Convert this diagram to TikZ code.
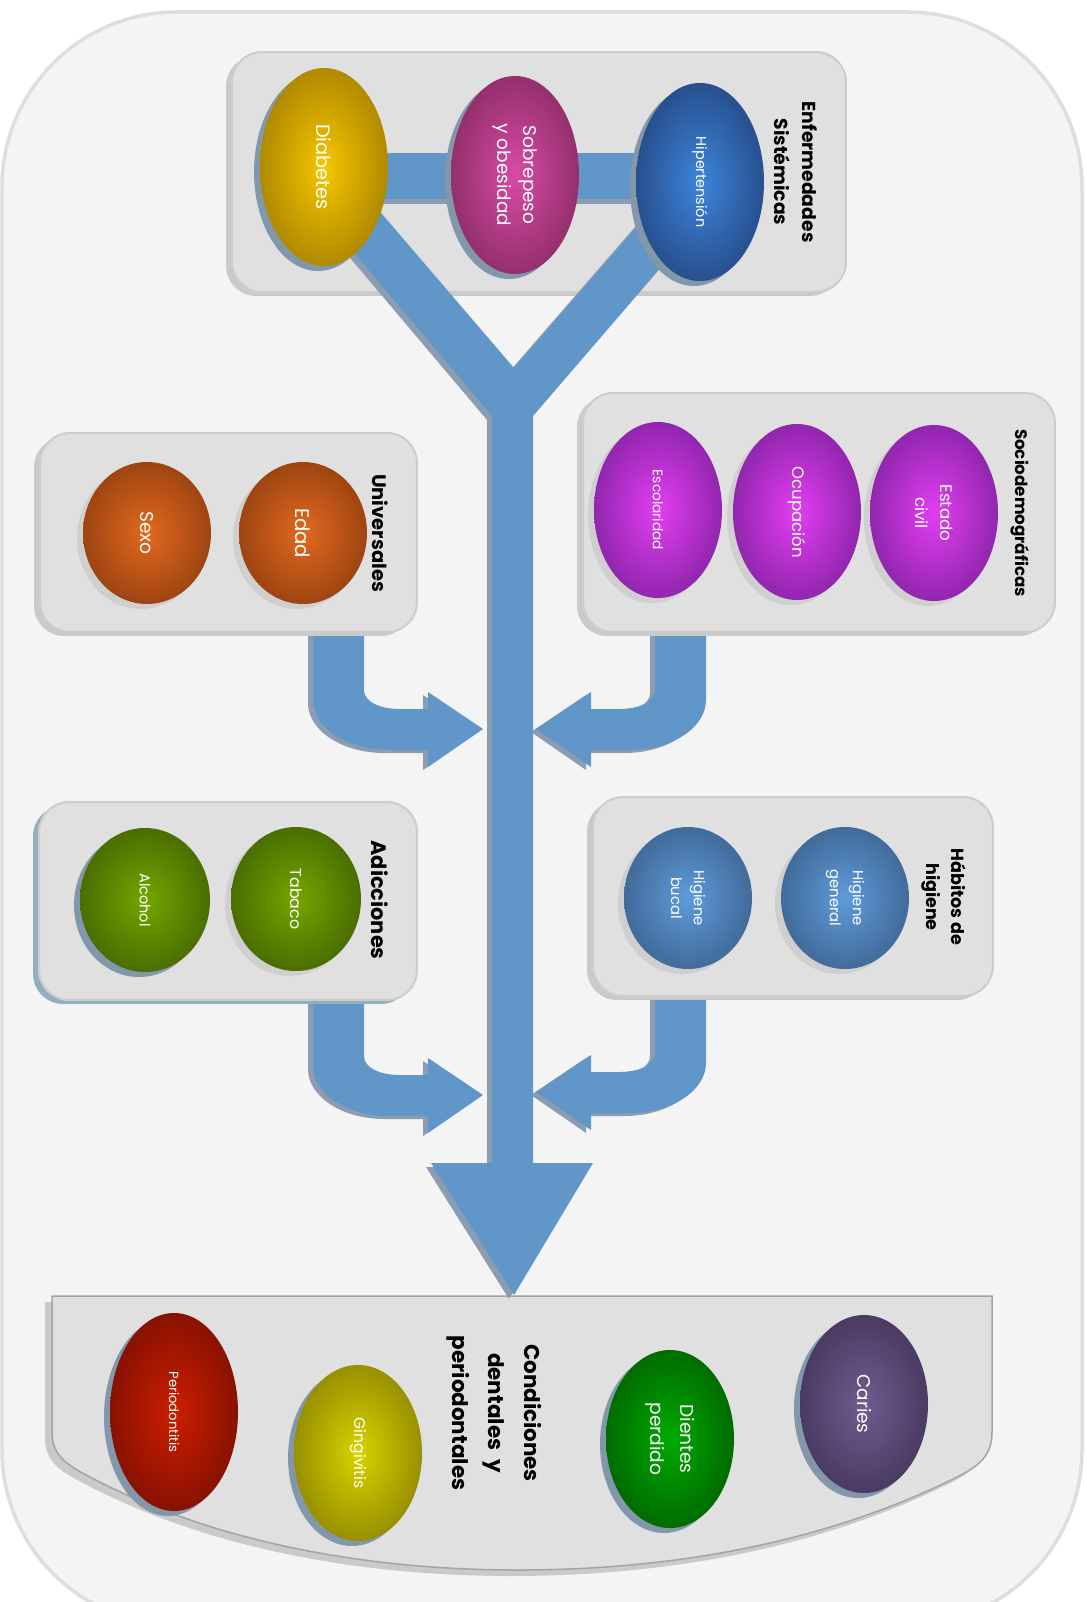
\documentclass[tikz,border=0pt]{standalone}
\usepackage{fontspec}
\setmainfont{Poppins}
\usetikzlibrary{shadows}
\definecolor{bgfill}{HTML}{F4F4F4}
\definecolor{bgline}{HTML}{DEDEDE}
\definecolor{boxfill}{HTML}{E0E0E0}
\definecolor{boxline}{HTML}{CDCDCD}
\definecolor{shgray}{HTML}{CACACA}
\definecolor{shteal}{HTML}{8FB0BC}
\definecolor{flow}{HTML}{6196C9}
\definecolor{flowsh}{HTML}{8C9DB2}
\definecolor{shb}{HTML}{8397AB}
\definecolor{shg}{HTML}{CFCFCF}
\definecolor{diabin}{HTML}{F7C600}\definecolor{diabout}{HTML}{B08A00}
\definecolor{sobin}{HTML}{D94AA6}\definecolor{sobout}{HTML}{94306C}
\definecolor{hipin}{HTML}{3D85DC}\definecolor{hipout}{HTML}{27508E}
\definecolor{socin}{HTML}{E23EF2}\definecolor{socout}{HTML}{9226AE}
\definecolor{uniin}{HTML}{E2691E}\definecolor{uniout}{HTML}{9E4512}
\definecolor{adiin}{HTML}{74A600}\definecolor{adiout}{HTML}{4A6E00}
\definecolor{higin}{HTML}{5F9BDA}\definecolor{higout}{HTML}{416B9A}
\definecolor{perin}{HTML}{CC1E00}\definecolor{perout}{HTML}{881200}
\definecolor{ginin}{HTML}{D8D400}\definecolor{ginout}{HTML}{989000}
\definecolor{diein}{HTML}{00AA00}\definecolor{dieout}{HTML}{006C00}
\definecolor{carin}{HTML}{705B8E}\definecolor{carout}{HTML}{4A3B62}
\newcommand\fsz[2]{\fontsize{#1}{#2}\selectfont}
\newcommand\blob[9]{%
  \fill[#7] (#2-6,#3+5) ellipse [x radius=#4, y radius=#5];
  \shade[inner color=#6in, outer color=#6out] (#2,#3) ellipse [x radius=#4, y radius=#5];
  \node[txt, font={#8}] (#1) at (#2,#3) {#9};
}
\def\Carrow{(313,600) -- (313,700) .. controls (313,727) and (346,750) .. (390,750) -- (428,750) -- (428,767) -- (483,729) -- (428,692) -- (428,709) -- (400,709) .. controls (380,709) and (364,702) .. (364,690) -- (364,600) -- cycle}
\def\Ypath{(370,200) -- (514,368) -- (660,200) -- (694,229) -- (533,416) -- (533,1163) -- (593,1163) -- (514,1295) -- (431,1163) -- (492,1163) -- (492,416) -- (334,229) -- cycle}
\def\Bowl{(52,1296) -- (992,1296) -- (992,1432) .. controls (992,1455) and (980,1466) .. (955,1478) .. controls (830,1540) and (680,1570) .. (518,1570) .. controls (360,1570) and (210,1540) .. (92,1478) .. controls (66,1465) and (52,1455) .. (52,1432) -- cycle}
\begin{document}
\begin{tikzpicture}[x=0.02cm,y=-0.02cm,
  txt/.style={text=white, rotate=-90, align=center, inner sep=0pt},
  lbl/.style={text=black, rotate=-90, align=center, inner sep=0pt},
  box/.style={draw=boxline, line width=0.04cm, fill=boxfill, rounded corners=0.6cm, inner sep=0pt,
    drop shadow={shadow xshift=-1.2mm, shadow yshift=-0.8mm, opacity=1, fill=#1}},
  box/.default=shgray]
\useasboundingbox (0,0) rectangle (1087,1602);
\clip (0,0) rectangle (1087,1602);
\fill[white] (0,0) rectangle (1087,1602);
% outer panel
\draw[fill=bgfill, draw=bgline, line width=0.07cm, rounded corners=3.5cm] (2,12) rectangle (1082,1625);

% curved arrows (behind the boxes)
\begin{scope}[shift={(-5,3)}]\fill[flowsh] \Carrow;\end{scope}
\fill[flow] \Carrow;
\begin{scope}[shift={(-5,369)}]\fill[flowsh] \Carrow;\end{scope}
\begin{scope}[shift={(0,366)}]\fill[flow] \Carrow;\end{scope}
\begin{scope}[shift={(1014,3)}, xscale=-1]\fill[flowsh] \Carrow;\end{scope}
\begin{scope}[shift={(1019,0)}, xscale=-1]\fill[flow] \Carrow;\end{scope}
\begin{scope}[shift={(1014,366)}, xscale=-1]\fill[flowsh] \Carrow;\end{scope}
\begin{scope}[shift={(1019,363)}, xscale=-1]\fill[flow] \Carrow;\end{scope}

% group boxes
\node[box, minimum width=12.28cm, minimum height=4.8cm] (enf) at (539,172) {};
\node[box, minimum width=7.54cm, minimum height=3.98cm] (uni) at (228.5,532.5) {};
\node[box, minimum width=9.44cm, minimum height=4.78cm] (soc) at (819,512.5) {};
\node[box=shteal, minimum width=7.56cm, minimum height=3.96cm] (adi) at (228,901) {};
\node[box, minimum width=8.0cm, minimum height=3.98cm] (hab) at (793,896.5) {};

% bottom bowl
\begin{scope}[shift={(-7,6)}]\fill[shgray] \Bowl;\end{scope}
\draw[fill=boxfill, draw=boxline!80!black, line width=0.03cm] \Bowl;

% main flow
\begin{scope}[shift={(-5,4)}]
  \fill[flowsh] (325,153) rectangle (701,200);
  \fill[flowsh] \Ypath;
\end{scope}
\fill[flow] (325,153) rectangle (701,199);
\fill[flow] \Ypath;

% bubbles
\blob{diab}{324}{167}{64}{99}{diab}{shb}{\fsz{11}{13}}{Diabetes}
\blob{sob}{515}{175}{64}{99}{sob}{shb}{\fsz{10.5}{14.7}}{Sobrepeso\\y obesidad}
\blob{hip}{700}{182}{64}{99}{hip}{shb}{\fsz{8.2}{10}}{Hipertensión}
\blob{esc}{658}{510}{64}{88}{soc}{shg}{\fsz{7.8}{10}}{Escolaridad}
\blob{ocu}{797}{512}{64}{88}{soc}{shg}{\fsz{9.4}{11}}{Ocupación}
\blob{est}{934}{513}{64}{88}{soc}{shg}{\fsz{9.5}{14.2}}{Estado\\civil}
\blob{sexo}{147}{533}{64}{71}{uni}{shg}{\fsz{10.6}{12}}{Sexo}
\blob{edad}{303}{533}{64}{71}{uni}{shg}{\fsz{11.2}{13}}{Edad}
\blob{alc}{145}{900}{65}{72}{adi}{shb}{\fsz{8.2}{10}}{Alcohol}
\blob{tab}{296}{899}{65}{72}{adi}{shg}{\fsz{9}{11}}{Tabaco}
\blob{hb}{688}{898}{64}{71}{hig}{shg}{\fsz{8.4}{13}}{Higiene\\bucal}
\blob{hg}{845}{898}{64}{71}{hig}{shg}{\fsz{8.4}{13}}{Higiene\\general}
\blob{per}{174}{1412}{64}{99}{per}{shb}{\fsz{7.5}{9}}{Periodontitis}
\blob{gin}{358}{1453}{64}{88}{gin}{shb}{\fsz{8.9}{10}}{Gingivitis}
\blob{die}{670}{1439}{64}{89}{die}{shb}{\fsz{10.6}{17}}{Dientes\\perdido}
\blob{car}{864}{1404}{64}{89}{car}{shb}{\fsz{10.5}{12}}{Caries}

% group labels
\node[lbl, font=\bfseries\fsz{10.7}{16}] (enfl) at (796,172) {Enfermedades\\Sistémicas};
\node[lbl, font=\bfseries\fsz{9.5}{11}] (socl) at (1020,513) {Sociodemográficas};
\node[lbl, font=\bfseries\fsz{11.1}{13}] (unil) at (380,533) {Universales};
\node[lbl, font=\bfseries\fsz{11.9}{14}] (adil) at (380,900) {Adicciones};
\node[lbl, font=\bfseries\fsz{10}{14}] (habl) at (944,897) {Hábitos de\\higiene};
\node[lbl, font=\bfseries\fsz{12.2}{20.5}] (conl) at (494,1413) {Condiciones\\dentales~~y\\periodontales};
\end{tikzpicture}
\end{document}
